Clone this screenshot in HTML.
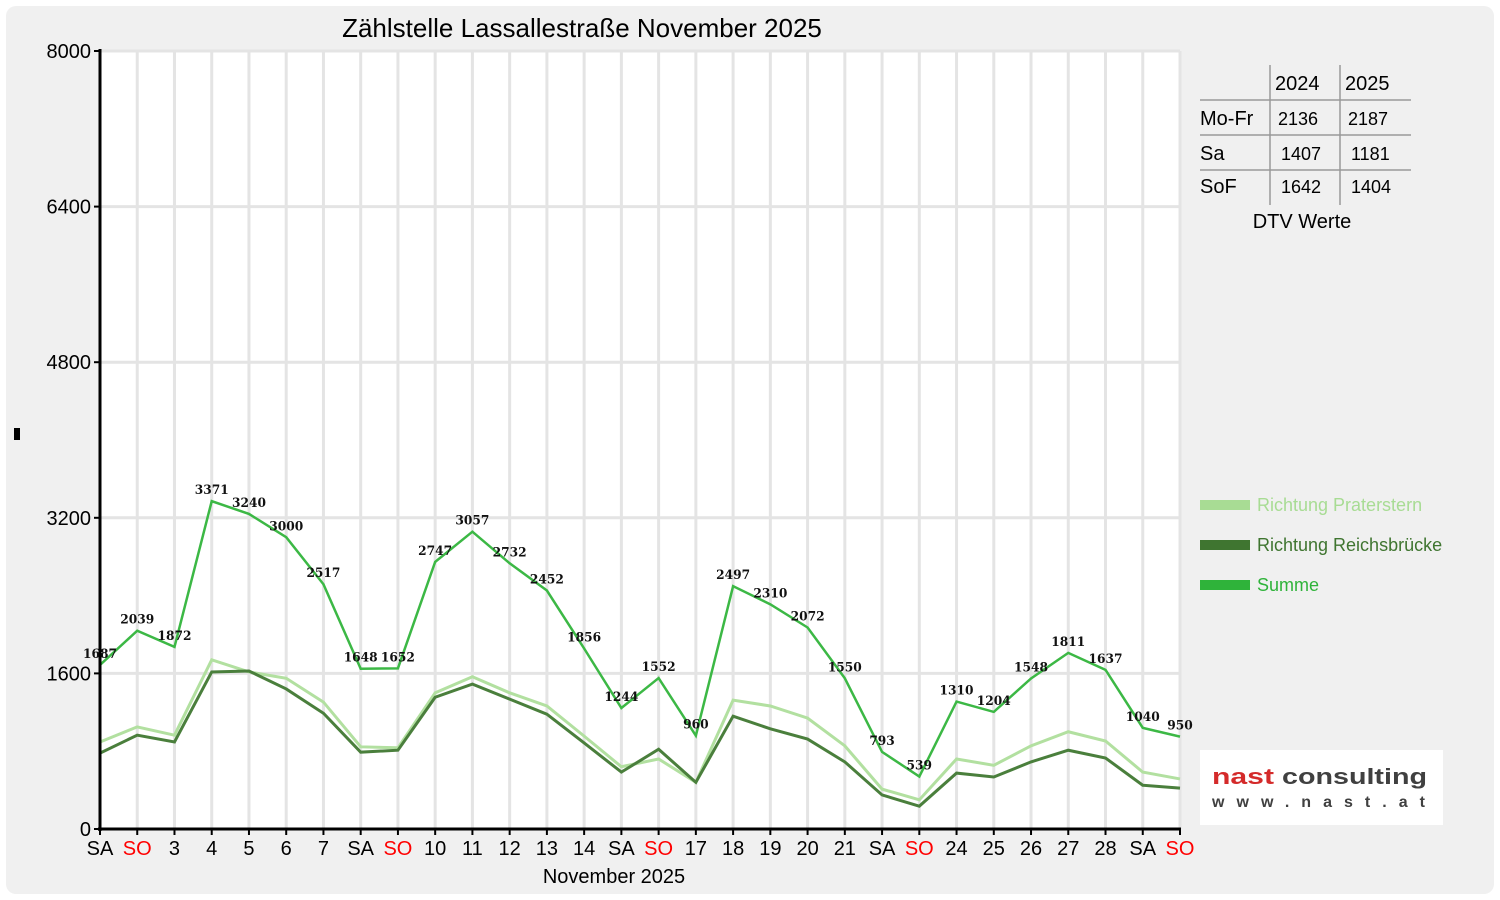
<!DOCTYPE html>
<html><head><meta charset="utf-8"><style>
html,body{margin:0;padding:0;background:#fff;}
svg{display:block;font-family:"Liberation Sans","DejaVu Sans",sans-serif;}
</style></head><body>
<svg id="c" width="1500" height="900" xmlns="http://www.w3.org/2000/svg">
<rect x="6" y="6" width="1488" height="888" rx="10" fill="#f0f0f0"/>
<rect x="100" y="51" width="1080" height="778" fill="#fff"/>
<g id="grid"></g>
<text x="582" y="37" font-size="26" text-anchor="middle" fill="#000">Zählstelle Lassallestraße November 2025</text>
<g id="series"></g>
<g id="axes"></g>
<text x="614" y="883" font-size="20" text-anchor="middle">November 2025</text>
<rect x="14" y="428" width="6" height="12" fill="#000"/>
<g stroke="#999" stroke-width="1.5">
<line x1="1270" y1="65" x2="1270" y2="205"/><line x1="1340" y1="65" x2="1340" y2="205"/>
<line x1="1200" y1="100" x2="1411" y2="100"/><line x1="1200" y1="135" x2="1411" y2="135"/><line x1="1200" y1="170" x2="1411" y2="170"/>
</g>
<g font-size="20" fill="#000">
<text x="1275" y="90">2024</text><text x="1345" y="90">2025</text>
<text x="1200" y="125">Mo-Fr</text><text x="1278" y="125" font-size="18">2136</text><text x="1348" y="125" font-size="18">2187</text>
<text x="1200" y="160">Sa</text><text x="1281" y="160" font-size="18">1407</text><text x="1351" y="160" font-size="18">1181</text>
<text x="1200" y="193">SoF</text><text x="1281" y="193" font-size="18">1642</text><text x="1351" y="193" font-size="18">1404</text>
<text x="1302" y="228" text-anchor="middle">DTV Werte</text>
</g>
<rect x="1200" y="500" width="50" height="10" fill="#a8dc94"/>
<text x="1257" y="511" font-size="18" fill="#a8dc94">Richtung Praterstern</text>
<rect x="1200" y="540" width="50" height="10" fill="#3f7530"/>
<text x="1257" y="551" font-size="18" fill="#3f7530">Richtung Reichsbrücke</text>
<rect x="1200" y="580" width="50" height="10" fill="#2fb33a"/>
<text x="1257" y="591" font-size="18" fill="#2fb33a">Summe</text>
<rect x="1200" y="750" width="243" height="75" fill="#fff"/>
<text x="1212" y="784" font-size="22" font-weight="bold" fill="#d42a2a" textLength="62" lengthAdjust="spacingAndGlyphs">nast</text>
<text x="1282" y="784" font-size="22" font-weight="bold" fill="#404040" textLength="145" lengthAdjust="spacingAndGlyphs">consulting</text>
<text x="1212" y="807" font-size="16" font-weight="bold" fill="#404040" textLength="213" lengthAdjust="spacing">www.nast.at</text>
</svg>
<script>
var sum=[1687,2039,1872,3371,3240,3000,2517,1648,1652,2747,3057,2732,2452,1856,1244,1552,960,2497,2310,2072,1550,793,539,1310,1204,1548,1811,1637,1040,950];
var lt=[895,1050,965,1740,1615,1550,1305,845,835,1400,1565,1400,1265,955,640,720,480,1325,1265,1140,855,410,300,720,655,855,1000,905,585,515];
var dk=[780,965,895,1615,1625,1440,1190,790,810,1355,1490,1335,1180,885,585,820,480,1160,1030,925,690,350,235,575,535,690,810,730,450,420];
var lab=["SA","SO","3","4","5","6","7","SA","SO","10","11","12","13","14","SA","SO","17","18","19","20","21","SA","SO","24","25","26","27","28","SA","SO"];
var NS="http://www.w3.org/2000/svg";
function X(i){return 100+i*1080/29;}
function Y(v){return 829-v*778/8000;}
function el(p,t,a,txt){var e=document.createElementNS(NS,t);for(var k in a)e.setAttribute(k,a[k]);if(txt!=null)e.textContent=txt;document.getElementById(p).appendChild(e);return e;}
for(var i=0;i<30;i++){el("grid","line",{x1:X(i),y1:51,x2:X(i),y2:829,stroke:"#e4e4e4","stroke-width":3});}
for(var v=1600;v<=8000;v+=1600){el("grid","line",{x1:100,y1:Y(v),x2:1180,y2:Y(v),stroke:"#e4e4e4","stroke-width":3});}
function poly(d,c,w){el("series","polyline",{points:d.map(function(v,i){return X(i)+","+Y(v)}).join(" "),fill:"none",stroke:c,"stroke-width":w,"stroke-linejoin":"miter"});}
poly(lt,"#b2e0a0",3);poly(dk,"#4a7f3c",3);poly(sum,"#3cb845",2.5);
for(var i=0;i<30;i++){var s=String(sum[i]);el("series","text",{x:X(i),y:Y(sum[i])-7,"font-size":13,"font-weight":"bold","font-family":"DejaVu Serif,Liberation Serif,serif","text-anchor":"middle",fill:"#111",textLength:s.length*8.5,lengthAdjust:"spacingAndGlyphs"},s);}
el("axes","line",{x1:100,y1:49,x2:100,y2:831,stroke:"#000","stroke-width":3});
el("axes","line",{x1:98,y1:829,x2:1181,y2:829,stroke:"#000","stroke-width":3});
for(var v=0;v<=8000;v+=1600){el("axes","line",{x1:94,y1:Y(v),x2:100,y2:Y(v),stroke:"#000","stroke-width":2});el("axes","text",{x:91,y:Y(v)+7,"font-size":20,"text-anchor":"end"},String(v));}
for(var i=0;i<30;i++){el("axes","line",{x1:X(i),y1:829,x2:X(i),y2:835,stroke:"#000","stroke-width":2});el("axes","text",{x:X(i),y:855,"font-size":20,"text-anchor":"middle",fill:lab[i]=="SO"?"#ff0000":"#000"},lab[i]);}
</script>
</body></html>
